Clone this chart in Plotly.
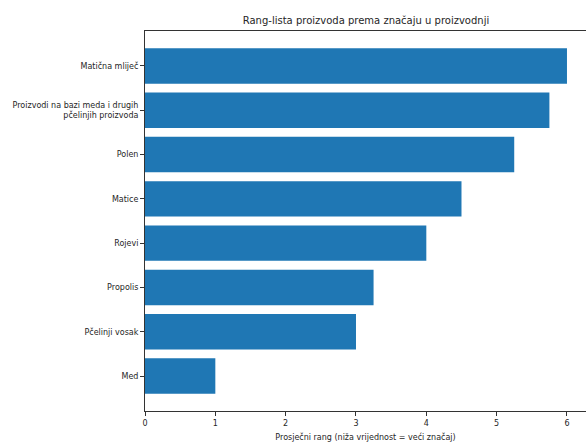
import plotly.graph_objects as go

categories = ["Med", "Pčelinji vosak", "Propolis", "Rojevi", "Matice", "Polen",
              "Proizvodi na bazi meda i drugih<br>pčelinjih proizvoda", "Matična mliječ"]
values = [1.0, 3.0, 3.25, 4.0, 4.5, 5.25, 5.75, 6.0]
x_ticks = [0, 1, 2, 3, 4, 5, 6]

W, H = 586, 444
fig = go.Figure(go.Bar(
    y=list(range(len(categories))), x=values, orientation="h",
    marker=dict(color="#1f77b4", line=dict(width=0)), width=0.8,
))
font = "DejaVu Sans, sans-serif"
fig.update_layout(
    width=W, height=H,
    margin=dict(l=145, r=0, t=31, b=33),
    paper_bgcolor="white", plot_bgcolor="white",
    showlegend=False,
    font=dict(family=font, size=8, color="#262626"),
    title=dict(text="Rang-lista proizvoda prema značaju u proizvodnji",
               x=366 / W, xanchor="center", xref="container",
               y=1 - 20 / H, yref="container", yanchor="middle",
               font=dict(size=10, family=font, color="#262626")),
)
fig.update_xaxes(
    range=[0, (W - 145) / 70.33], tickvals=x_ticks, ticktext=[str(t) for t in x_ticks],
    showgrid=False, zeroline=False, showline=True, linecolor="#333", linewidth=1,
    mirror=True, ticks="outside", ticklen=4, tickcolor="#333", automargin=False,
    title=dict(text="Prosječni rang (niža vrijednost = veći značaj)", standoff=7,
               font=dict(size=8, family=font)),
)
fig.update_yaxes(
    range=[-0.79, 7.79], tickvals=list(range(len(categories))), ticktext=categories,
    showgrid=False, zeroline=False, showline=True, linecolor="#333", linewidth=1,
    mirror=False, ticks="outside", ticklen=4, tickcolor="#333", automargin=False,
)
fig.write_html("out.html", config={"displayModeBar": False},
               post_script="document.body.style.margin='0';document.body.style.overflow='hidden';")
